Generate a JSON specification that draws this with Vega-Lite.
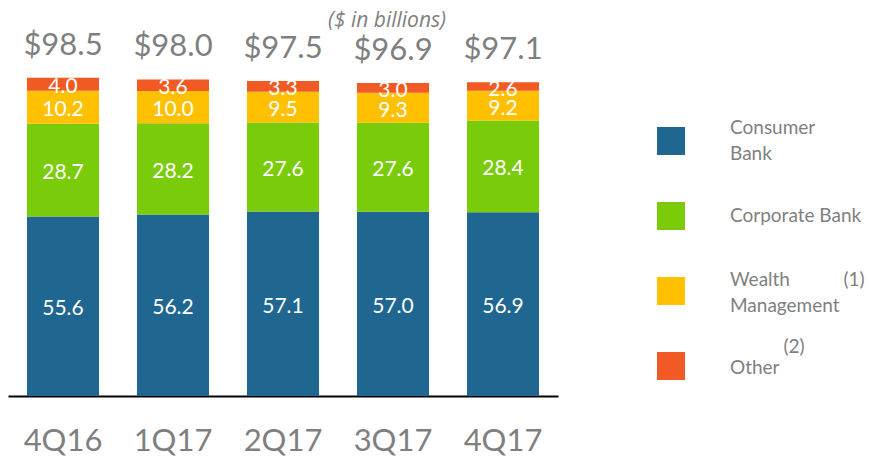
{
  "$schema": "https://vega.github.io/schema/vega-lite/v6.json",
  "autosize": {"type": "none"},
  "padding": {"left": 8, "top": 30, "right": 311, "bottom": 62},
  "width": 550,
  "height": 366,
  "background": "white",
  "config": {"view": {"stroke": null}, "font": "Lato"},
  "title": {"text": "($ in billions)", "font": "Open Sans", "fontStyle": "italic", "fontWeight": "normal", "fontSize": 21, "color": "#7F7F7F", "anchor": "middle", "dx": 104, "dy": 3, "offset": 2},
  "data": {"values": [
    {"quarter": "4Q16", "segment": "Consumer Bank", "value": 55.6},
    {"quarter": "4Q16", "segment": "Corporate Bank", "value": 28.7},
    {"quarter": "4Q16", "segment": "Wealth Management", "value": 10.2},
    {"quarter": "4Q16", "segment": "Other", "value": 4.0},
    {"quarter": "1Q17", "segment": "Consumer Bank", "value": 56.2},
    {"quarter": "1Q17", "segment": "Corporate Bank", "value": 28.2},
    {"quarter": "1Q17", "segment": "Wealth Management", "value": 10.0},
    {"quarter": "1Q17", "segment": "Other", "value": 3.6},
    {"quarter": "2Q17", "segment": "Consumer Bank", "value": 57.1},
    {"quarter": "2Q17", "segment": "Corporate Bank", "value": 27.6},
    {"quarter": "2Q17", "segment": "Wealth Management", "value": 9.5},
    {"quarter": "2Q17", "segment": "Other", "value": 3.3},
    {"quarter": "3Q17", "segment": "Consumer Bank", "value": 57.0},
    {"quarter": "3Q17", "segment": "Corporate Bank", "value": 27.6},
    {"quarter": "3Q17", "segment": "Wealth Management", "value": 9.3},
    {"quarter": "3Q17", "segment": "Other", "value": 3.0},
    {"quarter": "4Q17", "segment": "Consumer Bank", "value": 56.9},
    {"quarter": "4Q17", "segment": "Corporate Bank", "value": 28.4},
    {"quarter": "4Q17", "segment": "Wealth Management", "value": 9.2},
    {"quarter": "4Q17", "segment": "Other", "value": 2.6}
  ]},
  "transform": [
    {"calculate": "indexof(['Consumer Bank','Corporate Bank','Wealth Management','Other'], datum.segment)", "as": "rank"},
    {"stack": "value", "groupby": ["quarter"], "sort": [{"field": "rank", "order": "ascending"}], "as": ["v0", "v1"]},
    {"calculate": "(datum.v0 + datum.v1) / 2", "as": "mid"}
  ],
  "encoding": {
    "x": {"field": "quarter", "type": "nominal", "sort": ["4Q16", "1Q17", "2Q17", "3Q17", "4Q17"],
      "scale": {"paddingInner": 0.345, "paddingOuter": 0.1725},
      "axis": {"title": null, "ticks": false, "domainColor": "#000000", "domainWidth": 2, "labelAngle": 0, "labelFontSize": 31, "labelColor": "#7F7F7F", "labelPadding": 30, "labelFont": "Lato"}}
  },
  "layer": [
    {
      "mark": {"type": "bar", "strokeWidth": 0},
      "encoding": {
        "y": {"field": "v0", "type": "quantitative", "scale": {"domain": [0, 113.3], "nice": false}, "axis": null},
        "y2": {"field": "v1"},
        "color": {"field": "segment", "type": "nominal",
          "scale": {"domain": ["Consumer Bank", "Corporate Bank", "Wealth Management", "Other"], "range": ["#1F6690", "#7ACC0A", "#FFC000", "#F15A24"]},
          "legend": {"title": null, "orient": "none", "legendX": 649, "legendY": 97, "symbolType": "square", "symbolSize": 784, "symbolStrokeWidth": 0, "symbolOpacity": 1, "labelFontSize": 19, "labelColor": "#7F7F7F", "labelOffset": 45, "labelLimit": 300, "gridAlign": "all", "rowPadding": 22,
            "labelExpr": "datum.label == 'Consumer Bank' ? ['Consumer', 'Bank'] : datum.label == 'Wealth Management' ? ['Wealth\u00a0\u00a0\u00a0\u00a0\u00a0\u00a0\u00a0\u00a0\u00a0\u00a0\u00a0(1)', 'Management'] : datum.label == 'Other' ? ['\u200b\u00a0\u00a0\u00a0\u00a0\u00a0\u00a0\u00a0\u00a0\u00a0\u00a0\u00a0(2)', 'Other'] : datum.label",
            "encode": {"labels": {"update": {
              "lineHeight": {"signal": "datum.label == 'Other' ? 21 : 26"},
              "dy": {"signal": "datum.label == 'Consumer Bank' ? -13 : datum.label == 'Wealth Management' ? -11 : datum.label == 'Other' ? -19 : 0"}
            }}}}
        }
      }
    },
    {
      "mark": {"type": "text", "color": "white", "fontSize": 21, "baseline": "middle", "dy": 3},
      "encoding": {
        "y": {"field": "mid", "type": "quantitative"},
        "text": {"field": "value", "type": "quantitative", "format": ".1f"}
      }
    },
    {
      "transform": [{"aggregate": [{"op": "sum", "field": "value", "as": "total"}], "groupby": ["quarter"]}],
      "mark": {"type": "text", "color": "#7F7F7F", "fontSize": 31, "baseline": "middle", "dy": -32},
      "encoding": {
        "y": {"field": "total", "type": "quantitative"},
        "text": {"field": "total", "type": "quantitative", "format": "$.1f"}
      }
    }
  ]
}
